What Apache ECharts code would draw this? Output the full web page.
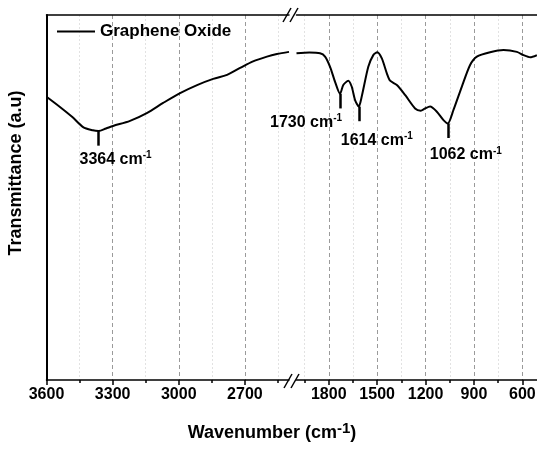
<!DOCTYPE html>
<html>
<head>
<meta charset="utf-8">
<script src="https://cdn.jsdelivr.net/npm/echarts@6/dist/echarts.min.js"></script>
<style>
  html, body { margin: 0; padding: 0; background: #fff; }
  #chart { width: 537px; height: 450px; }
</style>
</head>
<body>
<div id="chart"></div>
<script>
// spectrum, left part (3600 - 2500 cm-1)
const wnLeft = [3600, 3539, 3484, 3434, 3390, 3364, 3330, 3298, 3221, 3143, 3071, 2994, 2917, 2844, 2781, 2722, 2663, 2600, 2555, 2500]
const tLeft  = [77.6, 74.8, 72.1, 69.3, 68.4, 68.2, 68.9, 69.6, 71.0, 73.2, 75.9, 78.6, 80.8, 82.5, 83.6, 85.5, 87.3, 88.6, 89.3, 89.9]

// spectrum, right part (2000 - 500 cm-1)
const wnRight = [2000, 1920, 1854, 1823, 1792, 1761, 1730, 1710, 1679, 1658, 1637, 1614, 1596, 1555, 1524, 1499, 1471, 1440, 1420, 1378, 1327, 1265, 1230, 1203, 1172, 1130, 1089, 1062, 1027, 975, 924, 882, 800, 717, 634, 593, 552, 510]
const tRight  = [89.5, 89.7, 89.5, 88.6, 85.8, 81.7, 78.4, 80.8, 82.0, 80.4, 76.7, 74.9, 77.6, 85.8, 89.0, 89.8, 88.1, 84.0, 82.0, 80.8, 78.1, 74.4, 73.8, 74.4, 74.9, 73.5, 71.2, 70.3, 74.0, 80.4, 86.3, 88.6, 89.8, 90.4, 89.9, 89.0, 88.4, 89.0]

// marked peaks
const peakWn  = [3364, 1730, 1614, 1062]
const peakVal = [68.2, 78.4, 74.9, 70.3]

// tick labels
const majorLeft  = [3600, 3300, 3000, 2700]
const minorLeft  = [3450, 3150, 2850, 2550]
const majorRight = [1800, 1500, 1200, 900, 600]
const minorRight = [1950, 1650, 1350, 1050, 750]

const FONT = 'Liberation Sans, Arial, sans-serif'
const tickLen = 4   // length of the peak marker (y units)
const labelOffsets = { 3364: [17, 14], 1730: [-34, 14], 1614: [18, 19], 1062: [18, 17] }

const chart = echarts.init(document.getElementById('chart'))

function zip(xs, ys) {
  return xs.map((x, i) => [x, ys[i]])
}

function peaksIn(lo, hi) {
  return peakWn.map((wn, i) => ({ wn, v: peakVal[i] })).filter(p => p.wn >= lo && p.wn <= hi)
}

function markers(lo, hi) {
  const pk = peaksIn(lo, hi)
  return {
    markLine: {
      silent: true,
      symbol: ['none', 'none'],
      label: { show: false },
      lineStyle: { color: '#000', width: 2.5, type: 'solid' },
      data: pk.map(p => [{ coord: [p.wn, p.v] }, { coord: [p.wn, p.v - tickLen] }])
    },
    markPoint: {
      silent: true,
      symbolSize: 0,
      label: {
        show: true,
        position: 'inside',
        formatter: params => `{n|${params.data.wn} cm}{s|-1}`,
        rich: {
          n: { fontFamily: FONT, fontWeight: 'bold', fontSize: 16, color: '#000', lineHeight: 18 },
          s: { fontFamily: FONT, fontWeight: 'bold', fontSize: 10, color: '#000', verticalAlign: 'top', lineHeight: 12 }
        }
      },
      data: pk.map(p => ({ wn: p.wn, coord: [p.wn, p.v - tickLen], label: { offset: labelOffsets[p.wn] } }))
    }
  }
}

const labelStyle = {
  color: '#000', fontFamily: FONT, fontWeight: 'bold', fontSize: 16, margin: 7,
  formatter: v => String(v)
}
const majorSplit = { show: true, lineStyle: { color: '#9a9a9a', width: 1, type: [4, 3] } }
const minorSplit = { show: true, lineStyle: { color: '#e2e2e2', width: 1, type: [2, 2] } }

function xAxes(gridIndex, min, max, major, minor) {
  return [
    {
      type: 'value', gridIndex, min, max, inverse: true, position: 'bottom',
      axisLine: { show: true, lineStyle: { color: '#000', width: 1.5 } },
      axisTick: { show: true, customValues: major, length: 5, lineStyle: { color: '#000', width: 1.5 } },
      axisLabel: Object.assign({ customValues: major }, labelStyle),
      splitLine: majorSplit
    },
    {
      type: 'value', gridIndex, min, max, inverse: true, position: 'bottom',
      axisLine: { show: false },
      axisTick: { show: true, customValues: minor, length: 3, lineStyle: { color: '#000', width: 1.5 } },
      axisLabel: { show: false },
      splitLine: minorSplit
    },
    {
      type: 'value', gridIndex, min, max, inverse: true, position: 'top',
      axisLine: { show: true, lineStyle: { color: '#000', width: 1.5 } },
      axisTick: { show: false },
      axisLabel: { show: false },
      splitLine: { show: false }
    }
  ]
}

const option = {
  animation: false,
  legend: {
    left: 57, top: 23, padding: 0,
    icon: 'rect', itemWidth: 38, itemHeight: 2,
    textStyle: { color: '#000', fontFamily: FONT, fontWeight: 'bold', fontSize: 17 },
    data: ['Graphene Oxide']
  },
  grid: [
    { left: 46.5, top: 15, width: 242.5, height: 365, outerBoundsMode: 'none', containLabel: false },
    { left: 296.5, top: 15, width: 242, height: 365, outerBoundsMode: 'none', containLabel: false }
  ],
  xAxis: [].concat(
    xAxes(0, 2500, 3600, majorLeft, minorLeft),
    xAxes(1, 500, 2000, majorRight, minorRight)
  ),
  yAxis: [
    {
      type: 'value', gridIndex: 0, min: 0, max: 100,
      axisLine: { show: true, lineStyle: { color: '#000', width: 2 } },
      axisTick: { show: false }, axisLabel: { show: false }, splitLine: { show: false }
    },
    {
      type: 'value', gridIndex: 1, min: 0, max: 100,
      axisLine: { show: false }, axisTick: { show: false }, axisLabel: { show: false }, splitLine: { show: false }
    }
  ],
  series: [
    Object.assign({
      name: 'Graphene Oxide', type: 'line', xAxisIndex: 0, yAxisIndex: 0,
      symbol: 'none', smooth: 0.3,
      lineStyle: { color: '#000', width: 2 }, itemStyle: { color: '#000' },
      data: zip(wnLeft, tLeft)
    }, markers(2500, 3600)),
    Object.assign({
      name: 'Graphene Oxide', type: 'line', xAxisIndex: 3, yAxisIndex: 1,
      symbol: 'none', smooth: 0.25,
      lineStyle: { color: '#000', width: 2 }, itemStyle: { color: '#000' },
      data: zip(wnRight, tRight)
    }, markers(500, 2000))
  ],
  graphic: [
    // axis break marks
    { type: 'line', shape: { x1: 284, y1: 388, x2: 292, y2: 374 }, style: { stroke: '#000', lineWidth: 1.5 } },
    { type: 'line', shape: { x1: 291, y1: 388, x2: 299, y2: 374 }, style: { stroke: '#000', lineWidth: 1.5 } },
    { type: 'line', shape: { x1: 283, y1: 22, x2: 291, y2: 8 }, style: { stroke: '#000', lineWidth: 1.5 } },
    { type: 'line', shape: { x1: 290, y1: 22, x2: 298, y2: 8 }, style: { stroke: '#000', lineWidth: 1.5 } },
    {
      type: 'text', x: 16, y: 173, rotation: Math.PI / 2,
      style: {
        text: 'Transmittance (a.u)', fill: '#000',
        font: 'bold 18px ' + FONT,
        align: 'center', verticalAlign: 'middle', textAlign: 'center', textVerticalAlign: 'middle'
      }
    },
    {
      type: 'text', x: 272, y: 433,
      style: {
        text: '{a|Wavenumber (cm}{b|-1}{a|)}', fill: '#000',
        align: 'center', verticalAlign: 'middle', textAlign: 'center', textVerticalAlign: 'middle',
        rich: {
          a: { fontFamily: FONT, fontWeight: 'bold', fontSize: 18, fill: '#000', lineHeight: 24 },
          b: { fontFamily: FONT, fontWeight: 'bold', fontSize: 15, fill: '#000', verticalAlign: 'top', lineHeight: 15 }
        }
      }
    }
  ]
}

chart.setOption(option)
</script>
</body>
</html>
